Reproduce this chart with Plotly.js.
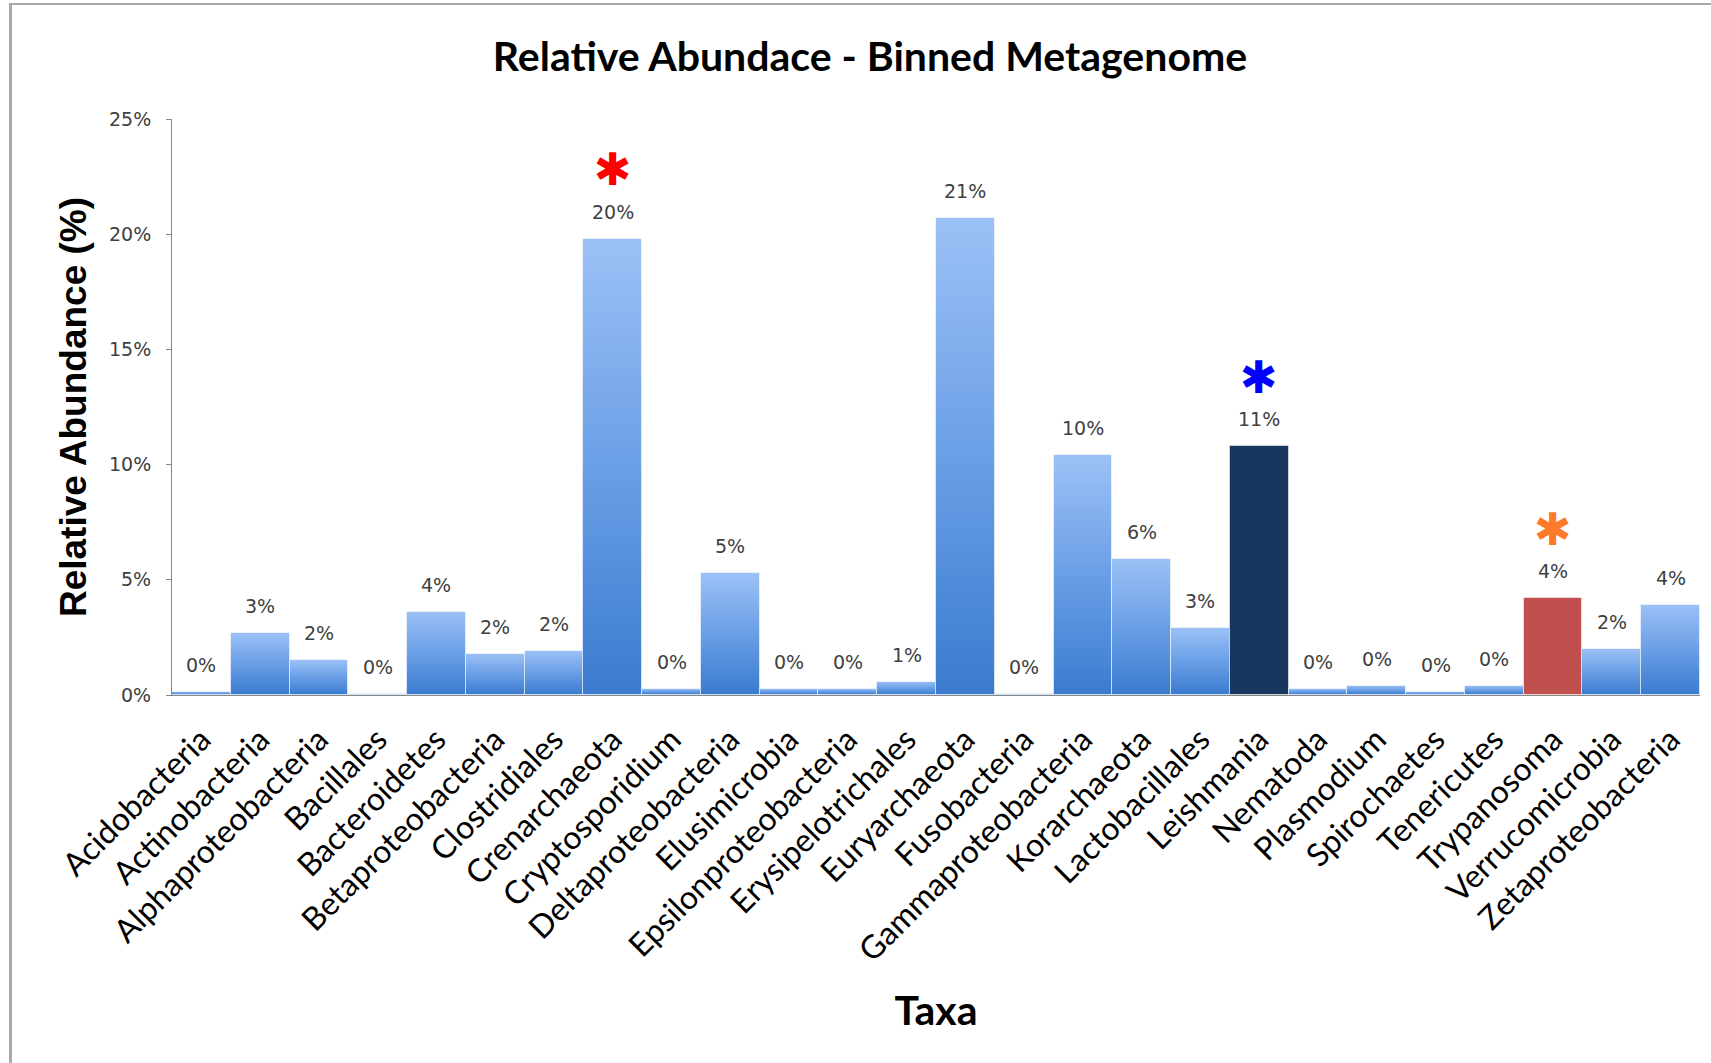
<!DOCTYPE html>
<html>
<head>
<meta charset="utf-8">
<script src="https://cdn.plot.ly/plotly-3.0.1.min.js"></script>
<style>
  html, body { margin: 0; padding: 0; background: #ffffff; }
  #wrap { position: relative; width: 1711px; height: 1063px; overflow: hidden; }
  #chart { position: absolute; left: 0; top: 0; width: 1711px; height: 1063px; }
  #frame {
    position: absolute; left: 9px; top: 3px; width: 1800px; height: 1200px;
    border-left: 3px solid #a9a9a9; border-top: 2px solid #a9a9a9;
    pointer-events: none;
  }
</style>
</head>
<body>
<div id="wrap">
  <div id="chart"></div>
  <div id="frame"></div>
</div>
<script>
// Taxa in the binned metagenome and their relative abundance (%)
const taxa = [
  'Acidobacteria', 'Actinobacteria', 'Alphaproteobacteria', 'Bacillales',
  'Bacteroidetes', 'Betaproteobacteria', 'Clostridiales', 'Crenarchaeota',
  'Cryptosporidium', 'Deltaproteobacteria', 'Elusimicrobia', 'Epsilonproteobacteria',
  'Erysipelotrichales', 'Euryarchaeota', 'Fusobacteria', 'Gammaproteobacteria',
  'Korarchaeota', 'Lactobacillales', 'Leishmania', 'Nematoda', 'Plasmodium',
  'Spirochaetes', 'Tenericutes', 'Trypanosoma', 'Verrucomicrobia', 'Zetaproteobacteria'
];
const abundance = [
  0.15, 2.7, 1.5, 0.05,
  3.6, 1.8, 1.9, 19.8,
  0.25, 5.3, 0.24, 0.24,
  0.55, 20.7, 0.05, 10.4,
  5.9, 2.9, 10.8, 0.24, 0.4,
  0.14, 0.38, 4.2, 2.0, 3.9
];

// Taxa flagged with a coloured asterisk
const flagged = ['Crenarchaeota', 'Leishmania', 'Trypanosoma'];
const flagColors = ['#ff0000', '#0000ff', '#ff7a28'];

// Solid fills for the two parasites; everything else gets the blue gradient
const solidFill = { 'Leishmania': '#17375e', 'Trypanosoma': '#c0504d' };
const BASE_BLUE = '#5b93e0';

const yTickVals = [0, 5, 10, 15, 20, 25];

const barColors = taxa.map(t => solidFill[t] || BASE_BLUE);

const trace = {
  type: 'bar',
  x: taxa,
  y: abundance,
  marker: {
    color: barColors,
    line: { color: 'rgba(255,255,255,0.55)', width: 1 }
  },
  hoverinfo: 'x+y'
};

// Value labels above each bar
const valueLabels = taxa.map((t, i) => ({
  x: t, y: abundance[i], xref: 'x', yref: 'y',
  text: Math.round(abundance[i]) + '%',
  showarrow: false, yanchor: 'middle', yshift: 27,
  font: { family: 'DejaVu Sans', size: 19, color: '#404040' }
}));

// Asterisks over the flagged taxa
const stars = flagged.map((t, k) => ({
  x: t, y: abundance[taxa.indexOf(t)], xref: 'x', yref: 'y',
  text: '\u2731',
  showarrow: false, yanchor: 'middle', yshift: 69,
  font: { family: 'DejaVu Sans', size: 45, color: flagColors[k] }
}));

const layout = {
  width: 1711, height: 1063,
  margin: { l: 172, r: 11, t: 119, b: 368 },
  paper_bgcolor: '#ffffff', plot_bgcolor: '#ffffff',
  showlegend: false,
  bargap: 0,
  title: {
    text: 'Relative Abundace - Binned Metagenome',
    font: { family: 'Lato', size: 41, color: '#000000', weight: 'bold' },
    xref: 'container', x: 870 / 1711, xanchor: 'center',
    yref: 'container', y: 1 - 57 / 1063, yanchor: 'middle'
  },
  xaxis: {
    type: 'category',
    tickangle: -45,
    tickfont: { family: 'Lato', size: 32, color: '#000000' },
    ticklabelstandoff: 12,
    showline: true, linecolor: '#868686', linewidth: 1,
    ticks: '', showgrid: false, zeroline: false,
    title: {
      text: 'Taxa',
      font: { family: 'Lato', size: 41, color: '#000000', weight: 'bold' },
      standoff: 28
    },
    automargin: false
  },
  yaxis: {
    range: [0, 25],
    tickvals: yTickVals,
    ticktext: yTickVals.map(v => v + '%'),
    tickfont: { family: 'DejaVu Sans', size: 19, color: '#404040' },
    ticks: 'outside', ticklen: 5, tickcolor: '#868686',
    ticklabelstandoff: 11,
    showline: true, linecolor: '#868686', linewidth: 1,
    showgrid: false, zeroline: false,
    title: {
      text: 'Relative Abundance (%)',
      font: { family: 'Liberation Sans', size: 37, color: '#000000', weight: 'bold' },
      standoff: 11
    },
    automargin: false
  },
  annotations: valueLabels.concat(stars)
};

// Vertical light-to-dark gradient on the blue bars
function applyGradient(gd) {
  const svg = gd.querySelector('svg.main-svg');
  if (!svg) return;
  const NS = 'http://www.w3.org/2000/svg';
  let defs = svg.querySelector('defs');
  if (!defs) { defs = document.createElementNS(NS, 'defs'); svg.insertBefore(defs, svg.firstChild); }
  if (!svg.querySelector('#barGrad')) {
    const g = document.createElementNS(NS, 'linearGradient');
    g.setAttribute('id', 'barGrad');
    g.setAttribute('x1', '0'); g.setAttribute('y1', '0');
    g.setAttribute('x2', '0'); g.setAttribute('y2', '1');
    [['0', '#9cc1f6'], ['0.5', '#6a9fe6'], ['1', '#3a7bcf']].forEach(([o, c]) => {
      const s = document.createElementNS(NS, 'stop');
      s.setAttribute('offset', o); s.setAttribute('stop-color', c);
      g.appendChild(s);
    });
    defs.appendChild(g);
  }
  const paths = gd.querySelectorAll('.barlayer .point path');
  paths.forEach((p, i) => {
    if (barColors[i] === BASE_BLUE) p.style.fill = 'url(#barGrad)';
  });
}

Plotly.newPlot('chart', [trace], layout, { displayModeBar: false, responsive: false })
  .then(gd => applyGradient(gd));
</script>
</body>
</html>
